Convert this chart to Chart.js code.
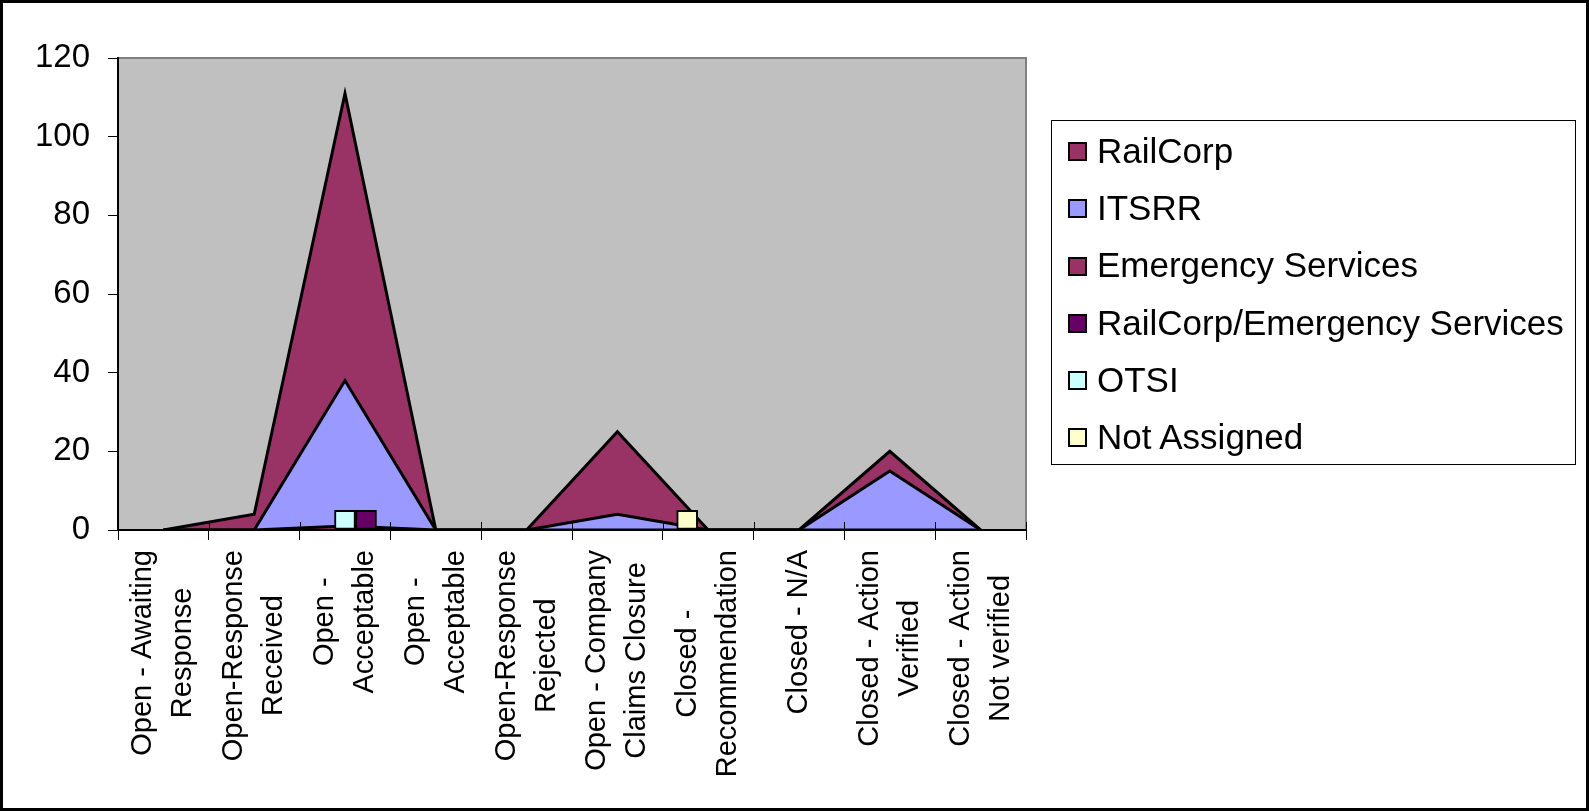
<!DOCTYPE html>
<html>
<head>
<meta charset="utf-8">
<script src="https://cdn.jsdelivr.net/npm/chart.js@4.4.0/dist/chart.umd.min.js"></script>
<style>
  html, body { margin: 0; padding: 0; background: #fff; }
  #wrap { position: relative; width: 1589px; height: 811px; }
  #legend {
    position: absolute; left: 1051px; top: 120px; width: 525px; height: 345px;
    box-sizing: border-box; border: 1.5px solid #000;
    font-family: 'Liberation Sans', Arial, sans-serif; font-size: 35px; color: #000;
  }
  .item { position: absolute; left: 16px; height: 40px; line-height: 40px; white-space: nowrap; }
  .swatch {
    display: inline-block; width: 15px; height: 15px; border: 2px solid #000;
    margin-right: 10px; vertical-align: middle; position: relative; top: -2px;
  }
</style>
</head>
<body>
<div id="wrap">
  <canvas id="myAreaChart" width="1589" height="811"></canvas>
  <div id="legend"></div>
</div>
<script>
// x categories, one array per label line
var categories = [
    ['Open - Awaiting', 'Response'],
    ['Open-Response', 'Received'],
    ['Open -', 'Acceptable'],
    ['Open -', 'Acceptable'],
    ['Open-Response', 'Rejected'],
    ['Open - Company', 'Claims Closure'],
    ['Closed -', 'Recommendation'],
    ['Closed - N/A'],
    ['Closed - Action', 'Verified'],
    ['Closed - Action', 'Not verified']
];

var seriesNames = ['RailCorp', 'ITSRR', 'Emergency Services', 'RailCorp/Emergency Services', 'OTSI', 'Not Assigned'];
var seriesColors = ['#993366', '#9999FF', '#993366', '#660066', '#CCFFFF', '#FFFFCC'];

// area series
var railCorp = [0, 4, 111, 0, 0, 25, 0, 0, 20, 0];
var itsrr = [0, 0, 38, 0, 0, 4, 0, 0, 15, 0];
var emergencyServices = [0, 0, 1, 0, 0, 0, 0, 0, 0, 0];
// small keyed boxes
var railCorpEmergency = [null, null, 5, null, null, null, null, null, null, null];
var otsi = [null, null, 5, null, null, null, null, null, null, null];
var notAssigned = [null, null, null, null, null, null, 5, null, null, null];

var yTicks = [0, 20, 40, 60, 80, 100, 120];

var FONT = "'Liberation Sans', Arial, sans-serif";

function area(i, data) {
    return {
        label: seriesNames[i],
        data: data,
        fill: 'origin',
        backgroundColor: seriesColors[i],
        borderColor: '#000',
        borderWidth: 3,
        borderJoinStyle: 'miter',
        pointRadius: 0,
        tension: 0,
        order: 6 - i
    };
}

// lower order -> further left slot (Not Assigned, OTSI, RailCorp/ES)
function box(i, data) {
    return {
        type: 'bar',
        label: seriesNames[i],
        data: data,
        backgroundColor: seriesColors[i],
        borderColor: '#000',
        borderWidth: 2,
        borderSkipped: false,
        barThickness: 21,
        order: 6 - i
    };
}

// white page, grey plot area, outer frame
var backdrop = {
    id: 'backdrop',
    beforeDraw: function(chart) {
        var ctx = chart.ctx, a = chart.chartArea;
        ctx.save();
        ctx.fillStyle = '#fff';
        ctx.fillRect(0, 0, chart.width, chart.height);
        ctx.fillStyle = '#C0C0C0';
        ctx.fillRect(a.left, a.top, a.right - a.left, a.bottom - a.top);
        ctx.strokeStyle = '#808080';
        ctx.lineWidth = 2;
        ctx.strokeRect(a.left, a.top, a.right - a.left, a.bottom - a.top);
        ctx.strokeStyle = '#000';
        ctx.lineWidth = 3;
        ctx.strokeRect(1.5, 1.5, chart.width - 3, chart.height - 3);
        ctx.restore();
    }
};

// excel style cross ticks + rotated, centred category labels
var xLabels = {
    id: 'xLabels',
    afterDraw: function(chart) {
        var ctx = chart.ctx, xs = chart.scales.x;
        var n = chart.data.labels.length;
        ctx.save();
        ctx.strokeStyle = '#000';
        ctx.lineWidth = 1;
        for (var k = 0; k <= n; k++) {
            var bx = Math.round(xs.left + k * (xs.right - xs.left) / n) + 0.5;
            ctx.beginPath();
            ctx.moveTo(bx, xs.top - 8);
            ctx.lineTo(bx, xs.top);
            ctx.stroke();
        }
        ctx.font = '29px ' + FONT;
        ctx.fillStyle = '#000';
        ctx.textAlign = 'center';
        ctx.textBaseline = 'middle';
        chart.data.labels.forEach(function(lines, i) {
            var x = xs.getPixelForValue(i);
            var maxW = Math.max.apply(null, lines.map(function(l) { return ctx.measureText(l).width; }));
            var cy = xs.top + 20 + maxW / 2;
            lines.forEach(function(line, j) {
                var off = (j - (lines.length - 1) / 2) * 40;
                ctx.save();
                ctx.translate(x + off, cy);
                ctx.rotate(-Math.PI / 2);
                ctx.fillText(line, 0, 0);
                ctx.restore();
            });
        });
        ctx.restore();
    }
};

var ctx = document.getElementById('myAreaChart');

new Chart(ctx, {
    type: 'line',
    data: {
        labels: categories,
        datasets: [
            area(0, railCorp),
            area(1, itsrr),
            area(2, emergencyServices),
            box(3, railCorpEmergency),
            box(4, otsi),
            box(5, notAssigned)
        ]
    },
    options: {
        responsive: false,
        animation: false,
        devicePixelRatio: 1,
        layout: { padding: { left: 0, top: 58, right: 563, bottom: 0 } },
        scales: {
            x: {
                offset: true,
                grid: { offset: true, drawOnChartArea: false, tickLength: 10, color: '#000', lineWidth: 1 },
                border: { color: '#000', width: 2, z: 1 },
                ticks: { display: false },
                afterFit: function(s) { s.height = 281; }
            },
            y: {
                min: 0,
                max: 120,
                afterBuildTicks: function(s) { s.ticks = yTicks.map(function(v) { return { value: v }; }); },
                grid: { drawOnChartArea: false, tickLength: 10, color: '#000', lineWidth: 1 },
                border: { color: '#000', width: 2, z: 1 },
                ticks: { color: '#000', padding: 18, font: { family: FONT, size: 33 } },
                afterFit: function(s) { s.width = 118; }
            }
        },
        plugins: {
            legend: { display: false },
            tooltip: { enabled: false }
        }
    },
    plugins: [backdrop, xLabels]
});

// legend
var legend = document.getElementById('legend');
seriesNames.forEach(function(name, i) {
    var item = document.createElement('div');
    item.className = 'item';
    item.style.top = (10 + i * 57.2) + 'px';
    var sw = document.createElement('span');
    sw.className = 'swatch';
    sw.style.background = seriesColors[i];
    item.appendChild(sw);
    item.appendChild(document.createTextNode(name));
    legend.appendChild(item);
});
</script>
</body>
</html>
